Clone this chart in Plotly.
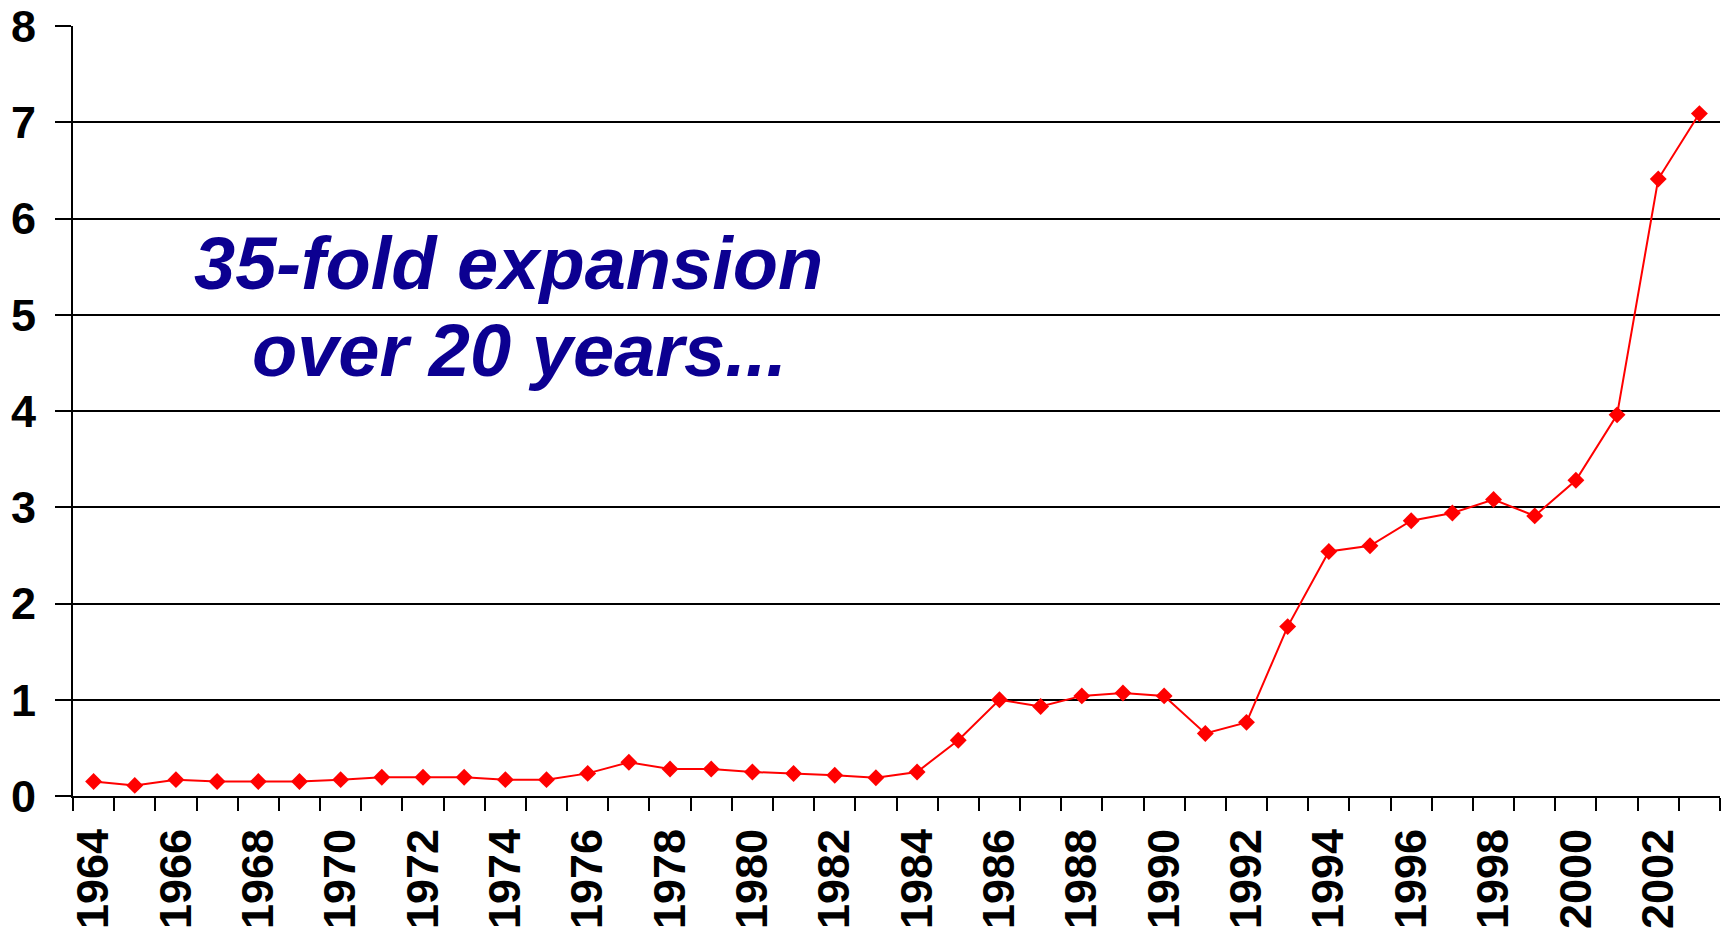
import plotly.graph_objects as go

years = list(range(1964, 2004))
values = [0.15, 0.11, 0.17, 0.15, 0.15, 0.15, 0.17, 0.195, 0.195, 0.195,
          0.17, 0.17, 0.235, 0.35, 0.28, 0.28, 0.25, 0.233, 0.215, 0.19,
          0.25, 0.58, 1.00, 0.93, 1.04, 1.07, 1.04, 0.65, 0.765, 1.76,
          2.54, 2.60, 2.86, 2.94, 3.08, 2.91, 3.28, 3.96, 6.41, 7.09]
tick_years = list(range(1964, 2004, 2))
tick_labels = [str(y) for y in tick_years]
y_ticks = list(range(0, 9))
note_line1 = "35-fold expansion"
note_line2 = "over 20 years..."

FONT = "Liberation Sans, Arial, sans-serif"
NAVY = "#0c0091"

fig = go.Figure()
fig.add_trace(go.Scatter(
    x=years, y=values, mode="lines+markers",
    line=dict(color="#ff0000", width=2),
    marker=dict(symbol="diamond", size=13, color="#ff0000"),
    showlegend=False, cliponaxis=False,
))

fig.update_layout(
    width=1729, height=931,
    margin=dict(l=73, r=9, t=26, b=135, pad=0),
    paper_bgcolor="white", plot_bgcolor="white",
    xaxis=dict(
        range=[1963.5, 2003.5], tickmode="array",
        tickvals=tick_years, ticktext=tick_labels, tickangle=-90,
        ticks="outside", ticklen=13, tickcolor="rgba(0,0,0,0)",
        ticklabelstandoff=0,
        showline=True, linecolor="black", linewidth=2,
        showgrid=False, zeroline=False, automargin=False,
        tickfont=dict(family=FONT, size=45, color="black", weight="bold"),
        minor=dict(ticks="outside", ticklen=13, tickwidth=2, tickcolor="black",
                   tick0=1963.5, dtick=1, showgrid=False),
    ),
    yaxis=dict(
        range=[0, 8], tickmode="array", tickvals=y_ticks,
        ticks="outside", ticklen=16, tickwidth=2, tickcolor="black",
        ticklabelstandoff=10,
        showline=True, linecolor="black", linewidth=2,
        showgrid=True, gridcolor="black", gridwidth=2,
        zeroline=False, automargin=False,
        tickfont=dict(family=FONT, size=45, color="black", weight="bold"),
    ),
    annotations=[
        dict(text=note_line1, xref="paper", yref="paper", x=0.2647, y=0.692,
             xanchor="center", yanchor="middle", showarrow=False,
             font=dict(family=FONT, size=74, color=NAVY, weight="bold", style="italic")),
        dict(text=note_line2, xref="paper", yref="paper", x=0.2714, y=0.578,
             xanchor="center", yanchor="middle", showarrow=False,
             font=dict(family=FONT, size=74, color=NAVY, weight="bold", style="italic")),
    ],
)

fig.write_html("out.html")
